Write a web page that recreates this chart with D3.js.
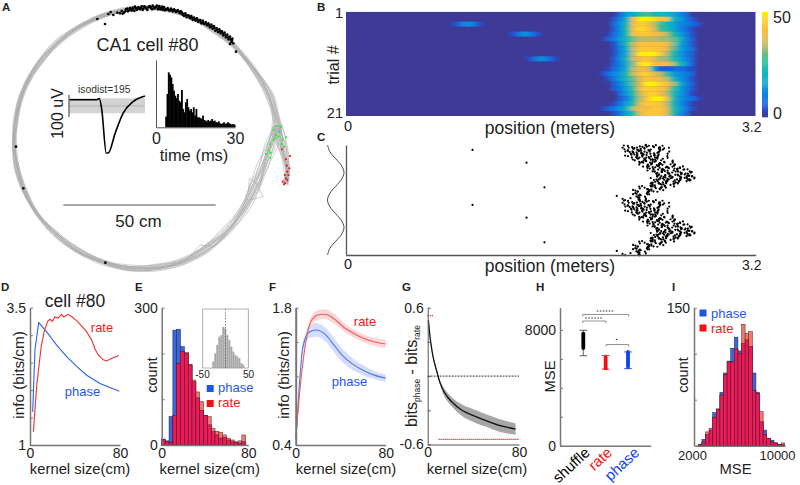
<!DOCTYPE html>
<html><head><meta charset="utf-8">
<script src="https://cdn.jsdelivr.net/npm/d3@7"></script>
<style>html,body{margin:0;padding:0;background:#fff}svg{display:block}text{font-family:"Liberation Sans",Arial,sans-serif;fill:#222}</style>
</head><body><svg id="c" width="800" height="485"></svg>
<script>
// ---------- panel A data (raw track units: 457 units = 50 cm)
const trackX=[858,862,850,838,828,810,780,740,700,640,580,510,450,380,300,230,170,120,85,60,46,42,50,72,110,165,230,310,390,470,550,620,680,730,765,790,815,835];
const trackY=[552,510,450,400,350,290,235,180,135,90,55,32,22,28,50,85,130,185,240,300,370,430,500,570,640,700,750,787,805,803,785,745,695,630,560,500,430,375];
const trackSpread=[.9,1,1.5,1.8,1.5,1.2,.9,.8,.7,.7,.6,.6,.6,.7,.7,.8,.9,.9,.8,.7,.7,.7,.8,.7,.7,.8,.9,.9,.9,1,1.2,1.4,1.3,1.5,1.8,1.9,1.9,1.7];
const lapOffsets=[-9,-7.5,-6,-5,-4,-3,-2.2,-1.4,-.7,0,.8,1.6,2.4,3.2,4.2,5.2,6.5,8];
const lapWobble=[2.2,-1.6,.9,-3,1.8,.4,-1.2,3.1,-2.3,.8,-.6,2,-3.2,1.4,.2,-1.8,2.6,-.8,1.2,-2.4];
const spikesTop=[[325,42],[332,36],[340,45],[352,38],[360,40],[365,33],[372,38],[378,28],[384,34],[390,24],[395,32],[400,27],[405,20],[410,30],[415,22],[420,28],[425,19],[430,26],[436,22],[442,30],[448,18],[453,24],[458,17],[463,26],[468,20],[474,28],[478,18],[483,24],[488,30],[492,21],[497,27],[503,24],[508,32],[513,26],[518,34],[522,28],[528,36],[533,30],[538,38],[543,34],[548,44],[552,48],[556,40],[560,52],[565,46],[570,55],[574,48],[578,60],[582,53],[587,62],[591,55],[595,66],[600,60],[604,70],[608,62],[612,72],[617,66],[621,76],[625,70],[630,82],[634,74],[638,86],[642,78],[646,92],[650,84],[654,96],[658,88],[662,100],[666,94],[670,106],[674,98],[678,112],[682,104],[686,118],[690,110],[694,126],[697,116],[690,132],[700,130],[292,57],[315,72],[708,155],[48,440],[70,565],[316,788],
[368,41],[376,34],[382,26],[388,30],[393,28],[398,23],[403,33],[408,25],[413,27],[418,25],[423,24],[428,30],[433,19],[439,26],[445,22],[451,20],[456,28],[461,21],[466,24],[471,17],[476,23],[481,28],[486,20],[490,26],[495,31],[500,28],[505,29],[511,30],[516,30],[520,31],[526,32],[531,34],[536,33],[541,40],[546,38],[550,42],[559,46],[568,50],[576,54],[585,58],[593,60],[602,65],[610,68],[619,72],[627,76],[636,80],[644,84],[652,90],[660,94],[668,100],[676,106],[684,112],[692,118],[696,122]];
const spikesGreen=[[820,390],[830,378],[842,380],[838,395],[828,405],[825,415],[835,410],[820,420],[858,412],[848,420],[852,440],[845,432],[810,432],[805,450],[798,462],[812,458],[811,473]];
const spikesRed=[[845,448],[870,468],[858,478],[860,497],[868,505],[862,515],[855,525],[865,525],[858,535],[848,545],[855,550],[862,540],[852,553]];
const waveT=[0,27.5,30,32.5,37,39,46,54,64,76];
const waveV=[-25,-25,-22,-48,-148,-148,-102,-56,-29,-16];
const isiMs=[3.5,4,4.5,5,5.5,6,6.5,7,7.5,8,8.5,9,9.5,10,10.5,11,11.5,12,12.5,13,13.5,14,14.5,15,15.5,16,16.5,17,17.5,18,18.5,19,19.5,20,20.5,21,21.5,22,22.5,23,23.5,24,24.5,25,25.5,26,26.5,27,27.5,28,28.5,29,29.5];
const isiCount=[32,100,165,158,150,130,110,95,88,100,80,75,112,55,45,75,85,60,50,55,45,60,35,55,30,30,28,25,35,22,20,18,22,18,20,25,18,20,15,15,18,12,10,12,15,10,12,15,12,10,8,10,8];
// ---------- panel B data
const heatKnots=[2,2.05,2.1,2.15,2.2,2.25,2.3,2.35,2.4,2.45,2.5,2.55,2.6,2.65,2.7,2.75,2.8];
const heatRows=[
[0,0,0,8,15,18,25,28,22,20,20,18,12,8,0,0,0],
[0,0,5,12,22,40,50,50,48,42,42,22,15,10,5,0,0],
[0,0,8,15,25,42,44,42,35,28,22,18,12,10,8,4,0],
[0,0,6,14,26,42,48,46,38,28,24,18,12,8,3,0,0],
[0,2,8,14,26,42,44,44,40,38,34,24,16,10,4,0,0],
[0,6,10,16,24,30,34,34,34,32,32,30,24,12,6,0,0],
[0,0,5,14,26,36,42,42,42,42,40,32,20,12,5,0,0],
[0,0,4,12,22,36,44,44,44,40,38,30,18,12,8,0,0],
[0,0,4,12,20,36,50,50,50,46,34,24,16,10,6,0,0],
[0,0,6,14,24,36,40,42,38,32,32,24,18,12,6,0,0],
[0,0,6,12,20,32,48,50,42,40,40,34,24,16,6,0,0],
[0,2,8,12,22,34,40,38,20,6,5,6,8,6,4,0,0],
[2,8,12,16,26,36,44,46,38,34,28,16,12,10,6,0,0],
[0,4,10,16,24,30,38,42,40,38,34,22,14,10,4,0,0],
[0,0,6,12,20,30,38,50,50,46,42,34,22,12,6,0,0],
[0,0,6,10,18,28,40,46,44,42,38,28,18,10,5,0,0],
[0,0,0,8,16,26,36,44,46,40,34,24,16,10,3,0,0],
[0,0,0,6,12,24,34,44,50,50,42,26,14,10,8,3,0],
[0,0,4,10,18,26,38,44,44,42,34,24,14,8,2,0,0],
[2,6,10,14,22,34,40,38,44,42,38,26,16,10,4,0,0],
[0,0,4,10,18,26,38,44,44,44,38,26,14,8,0,0,0]];
const heatBlobs=[[2,[.85,.9,.95,1,1.05],[3,9,13,9,3]],[4,[1.3,1.35,1.4,1.45,1.5],[3,9,13,9,3]],[9,[1.43,1.48,1.53,1.58,1.63],[3,9,13,9,3]]];
const parulaStops=[0,.06,.15,.3,.42,.54,.66,.8,.92,1];
const parulaCols=["#3e3a96","#2a48c8","#0f70e6","#0fa0d8","#12b8c0","#2cc090","#b4bb72","#fdbb40","#fdd030","#fff200"];
// ---------- panel C data: [phase deg, [positions in metres]]
const spikeRows=[[358,[2.33,2.36,2.39,2.48]],[352,[2.18,2.20,2.29,2.33,2.37,2.39]],[345,[2.19,2.24,2.30,2.34,2.38,2.47,2.51]],[339,[2.18,2.21,2.26,2.31,2.36,2.44,2.50]],[332,[.96,2.20,2.23,2.28,2.33,2.37,2.42,2.47]],[326,[2.19,2.22,2.25,2.30,2.34,2.40,2.45,2.49]],[319,[2.21,2.24,2.27,2.31,2.36,2.44,2.50]],[313,[2.20,2.23,2.29,2.32,2.38,2.42,2.47]],[306,[2.22,2.26,2.28,2.33,2.36,2.41,2.46]],[300,[2.22,2.25,2.27,2.30,2.34,2.38,2.45,2.49]],[293,[2.21,2.27,2.29,2.32,2.35,2.39,2.44]],[287,[2.23,2.26,2.29,2.33,2.37,2.43,2.48]],[280,[2.24,2.27,2.30,2.34,2.38,2.40,2.46]],[274,[2.25,2.28,2.31,2.36,2.39,2.45,2.50]],[267,[2.26,2.30,2.34,2.37,2.41,2.47]],[261,[2.27,2.31,2.35,2.38,2.42,2.49]],[254,[2.28,2.32,2.36,2.40,2.44,2.52,2.56]],[248,[2.29,2.34,2.37,2.41,2.46,2.51]],[244,[1.41]],[241,[2.30,2.35,2.38,2.42,2.47,2.54]],[235,[2.31,2.36,2.39,2.43,2.49,2.53,2.58]],[228,[2.33,2.38,2.41,2.45,2.50,2.56]],[222,[2.34,2.37,2.42,2.46,2.52,2.57,2.61]],[215,[2.35,2.39,2.43,2.47,2.53,2.59]],[209,[2.36,2.40,2.44,2.49,2.54,2.58,2.63]],[202,[2.37,2.41,2.45,2.50,2.56,2.60,2.64]],[196,[2.38,2.42,2.47,2.51,2.55,2.61,2.66]],[189,[2.40,2.43,2.46,2.52,2.57,2.62,2.68]],[183,[2.41,2.44,2.49,2.53,2.58,2.64,2.69]],[176,[2.40,2.45,2.50,2.54,2.59,2.63,2.67,2.70]],[170,[2.42,2.46,2.49,2.55,2.60,2.65,2.68]],[163,[2.43,2.47,2.51,2.56,2.61,2.64,2.69]],[157,[2.44,2.46,2.52,2.55,2.58,2.62,2.66,2.71,2.73]],[150,[2.42,2.47,2.50,2.53,2.57,2.63,2.67,2.70]],[144,[2.41,2.45,2.49,2.52,2.56,2.60,2.65,2.69,2.71]],[137,[2.43,2.46,2.50,2.54,2.58,2.62,2.66,2.70]],[131,[2.40,2.44,2.48,2.51,2.55,2.59,2.64,2.68]],[124,[2.41,2.45,2.49,2.53,2.57,2.61,2.66,2.69]],[118,[2.39,2.43,2.47,2.50,2.54,2.58,2.63]],[111,[2.38,2.42,2.46,2.49,2.52,2.56,2.60]],[105,[2.37,2.41,2.45,2.48,2.53,2.59]],[98,[2.36,2.40,2.44,2.47,2.51]],[92,[2.33,2.37,2.41,2.46,2.50,2.54]],[85,[2.32,2.39,2.43,2.47,2.49]],[83,[1.55]],[79,[2.30,2.36,2.41,2.44,2.48]],[72,[2.34,2.38,2.42,2.46]],[65,[2.22,2.29,2.36,2.40,2.45]],[59,[2.30,2.35,2.39,2.43]],[53,[2.27,2.33,2.38,2.42]],[46,[2.28,2.32,2.37]],[40,[2.22,2.30,2.35]],[33,[2.31,2.34]],[28,[2.14,2.25,2.29,2.33]],[20,[2.27,2.31]],[14,[2.24,2.28]],[7,[2.18,2.26,2.30,2.32]],[1,[2.21,2.28,2.31]]];
const readErrM=[.012,-.02,.03,-.008,.022,-.03,.005,-.015,.028,-.025,.018,-.005,-.028,.01,.025,-.018];
const readErrD=[3,-2,1,-3,2,4,-1,-4,0,3,-3,2,-2,4,1,-1,-3];
const thetaPhase=[720,675,630,585,540,495,450,405,360,315,270,225,180,135,90,45,0];
const thetaCos=[0,.15,.5,.85,1,.85,.5,.15,0,.15,.5,.85,1,.85,.5,.15,0];
// ---------- panel D data
const dPhaseK=[2.4,4.4,7.7,14.8,23.7,32.6,41.5,50.4,62.2,79.4];
const dPhaseI=[1.6,2.73,3.23,3.06,2.82,2.61,2.43,2.27,2.12,1.98];
const dRateK=[3,6,10,13,16,17.8,20,22,25,28,30,34,37,41,44.4,50.4,54.8,58,60.7,65,68,72,79];
const dRateI=[1.24,2.09,2.8,3.1,3.26,3.29,3.25,3.33,3.31,3.38,3.33,3.38,3.34,3.27,3.2,3.06,2.91,2.74,2.64,2.55,2.53,2.57,2.63];
// ---------- panel E data
const eBinStart=[-.3,3.24,6.78,10.32,13.86,17.4,20.94,24.48,28.02,31.56,35.1,38.64,42.18,45.72,49.26,52.8,56.34,59.88,63.42,66.96,70.5,74.04];
const ePhase=[13,9,62,251,253,215,200,175,138,103,76,65,44,29,22,15,16,11,7,5,4,7];
const eRate=[11,7,5,65,178,204,202,176,142,116,95,65,62,36,30,28,22,15,11,7,9,22];
const insetBins=[-29,-24.6,-20.2,-15.8,-11.4,-7,-2.6,1.8,6.2,10.6,15,19.4,23.8,28.2,32.6,37];
const insetCount=[20,45,70,95,100,125,120,100,85,65,50,40,35,30,15,10];
// ---------- panel F data
const fRateK=[0,3.9,8.3,12.7,17,21.6,27.6,35,44,53,62,70.5,80];
const fRateI=[.47,.98,1.4,1.64,1.71,1.73,1.73,1.68,1.59,1.53,1.48,1.45,1.43];
const fRateSem=[.01,.02,.03,.04,.05,.05,.05,.05,.045,.04,.04,.04,.04];
const fPhaseK=[1,3.9,6.8,11,15.7,20,26,32,41,50,62,70.5,80];
const fPhaseI=[.57,1.11,1.42,1.54,1.57,1.57,1.53,1.45,1.32,1.23,1.15,1.11,1.08];
const fPhaseSem=[.01,.03,.05,.06,.07,.07,.07,.07,.07,.06,.05,.04,.04];
// ---------- panel G data
const gK=[.6,2.6,5,8,11,15,21,30,38.5,50,62,77];
const gD=[.49,.30,.155,.04,-.064,-.15,-.225,-.30,-.34,-.386,-.43,-.465];
const gSem=[.01,.01,.015,.015,.02,.035,.04,.05,.055,.055,.055,.05];
// ---------- panel H data
const hCats=["shuffle","rate","phase"];
const hCols=["#000","#f01010","#1040f0"];
const hWhiskLo=[6220,5290,5330];
const hWhiskHi=[7980,6230,6480];
const hBoxLo=[6750,5350,5450];
const hBoxHi=[7750,6100,6480];
// ---------- panel I data
const iBinStart=[2296,2616,2936,3256,3576,3896,4216,4536,4856,5176,5496,5816,6136,6456,6776,7096,7416,7736,8056,8376,8696,9016,9336,9656];
const iPhase=[1,7,12,17,36,40,58,79,92,106,118,103,111,115,108,79,58,26,17,8,6,3,1,1];
const iRate=[1,4,15,19,31,39,55,77,91,91,105,100,132,122,124,60,57,37,12,8,4,3,1,3];

const BLUE="#1f56e8",RED="#f01818",AX="#777";
const svg=d3.select("#c");
function T(x,y,s,o={}){const t=svg.append("text").attr("x",x).attr("y",y).attr("font-size",o.size||15).attr("text-anchor",o.anchor||"start").text(s);
 if(o.color)t.style("fill",o.color); if(o.bold)t.attr("font-weight","bold");
 if(o.rot!=null)t.attr("transform",`rotate(${o.rot} ${x} ${y})`); return t;}
function axis(g,kind,scale,vals,labels,o={}){
 const a=(kind=="left"?d3.axisLeft(scale):d3.axisBottom(scale)).tickValues(vals).tickSizeInner(o.tick==null?-3:o.tick).tickSizeOuter(0).tickPadding(o.pad==null?4:o.pad)
  .tickFormat(d=>{const i=vals.indexOf(d);return labels[i]||""});
 const s=g.call(a);
 s.select(".domain").attr("stroke",o.color||AX).attr("stroke-width",o.w||1.5);
 s.selectAll("line").attr("stroke",o.color||AX).attr("stroke-width",1);
 s.selectAll("text").attr("font-size",o.size||14).style("fill","#222");
 return s;}
const G=(x=0,y=0)=>svg.append("g").attr("transform",`translate(${x},${y})`);

// panel letters
[["A",2,11],["B",317,11],["C",317,141],["D",1,291],["E",135,291],["F",269,291],["G",402,291],["H",536,291],["I",672,291]].forEach(p=>T(p[1],p[2],p[0],{size:11.5,bold:true}));

// ---- A
const tx=d3.scaleLinear().domain([0,930]).range([0,310]), ty=d3.scaleLinear().domain([0,825]).range([0,275]);
const gA=G();
const cxT=450,cyT=415;
lapOffsets.forEach((off,l)=>{
 const pts=trackX.map((x,i)=>{
  const dx=x-cxT,dy=trackY[i]-cyT,r=Math.hypot(dx,dy);
  const ro=off*trackSpread[i]+lapWobble[(i+l*3)%lapWobble.length]*trackSpread[i];
  return [x+dx/r*ro,trackY[i]+dy/r*ro];});
 gA.append("path").attr("d",d3.line().x(d=>tx(d[0])).y(d=>ty(d[1])).curve(d3.curveCatmullRom)(pts))
  .attr("fill","none").attr("stroke","#adadad").attr("stroke-width",.55);
});
[[[745,575],[748,535],[780,555],[795,490]],[[560,780],[600,735],[640,740],[680,700]],[[750,600],[790,590],[765,545]]].forEach(kink=>
 gA.append("path").attr("d",d3.line().x(d=>tx(d[0])).y(d=>ty(d[1]))(kink)).attr("fill","none").attr("stroke","#a9a9a9").attr("stroke-width",.6));
gA.selectAll(".b").data(spikesTop).enter().append("circle").attr("cx",d=>tx(d[0])).attr("cy",d=>ty(d[1])).attr("r",1.3).attr("fill","#000");
gA.selectAll(".g").data(spikesGreen).enter().append("circle").attr("cx",d=>tx(d[0])).attr("cy",d=>ty(d[1])).attr("r",1.05).attr("fill","#22ee22");
gA.selectAll(".r").data(spikesRed).enter().append("circle").attr("cx",d=>tx(d[0])).attr("cy",d=>ty(d[1])).attr("r",1.05).attr("fill","#f01010");
T(96.5,51,"CA1 cell #80",{size:18});
T(78,93,"isodist=195",{size:10.3,color:"#333"});
// waveform: x in time, y in uV
const wx=d3.scaleLinear().domain([0,76]).range([69.5,145]), wy=d3.scaleLinear().domain([0,-148]).range([89,153]);
gA.append("rect").attr("x",wx(0)).attr("width",wx(76)-wx(0)).attr("y",wy(-21.5)).attr("height",wy(-56)-wy(-21.5)).attr("fill","#d4d4d4");
gA.append("line").attr("x1",wx(0)).attr("x2",wx(76)).attr("y1",wy(-39)).attr("y2",wy(-39)).attr("stroke","#aaa").attr("stroke-width",.8);
gA.append("path").attr("d",d3.line().x((d,i)=>wx(waveT[i])).y(d=>wy(d)).curve(d3.curveMonotoneX)(waveV)).attr("fill","none").attr("stroke","#000").attr("stroke-width",1.6);
gA.append("line").attr("x1",69).attr("x2",69).attr("y1",95).attr("y2",117).attr("stroke","#333").attr("stroke-width",1);
T(58,113.5,"100 uV",{size:16,anchor:"middle",rot:-90}).attr("dy",5);
// ISI
const ix=d3.scaleLinear().domain([0,30]).range([156,235]), iy=d3.scaleLinear().domain([0,202]).range([127.3,60]);
gA.selectAll(".isi").data(isiCount).enter().append("rect").attr("x",(d,i)=>ix(isiMs[i])).attr("width",ix(.5)-ix(0)+.5).attr("y",d=>iy(d)).attr("height",d=>iy(0)-iy(d)).attr("fill","#000");
axis(G(0,127.3),"bottom",ix,[0,30],["0","30"],{tick:0,color:"#555",w:1,size:16,pad:5});
axis(G(156,0),"left",iy,[0],[""],{tick:0,color:"#555",w:1});
T(194,161,"time (ms)",{size:16.5,anchor:"middle"});
gA.append("line").attr("x1",63.3).attr("x2",215.7).attr("y1",205).attr("y2",205).attr("stroke","#555").attr("stroke-width",1.1);
T(138.5,227,"50 cm",{size:17,anchor:"middle"});

// ---- B
const bx=d3.scaleLinear().domain([0,3.2]).range([346,755.7]);
const by=d3.scaleLinear().domain([0,21]).range([11.7,116]);
const parula=d3.scaleLinear().domain(parulaStops.map(d=>d*50)).range(parulaCols);
const defs=svg.append("defs");
defs.append("clipPath").attr("id","bc").append("rect").attr("x",bx(0)).attr("y",by(0)).attr("width",bx(3.2)-bx(0)).attr("height",by(21)-by(0));
defs.append("filter").attr("id","bl").attr("x","-5%").attr("y","-5%").attr("width","110%").attr("height","110%").append("feGaussianBlur").attr("stdDeviation","2.6 .55");
const gB=G().attr("clip-path","url(#bc)");
gB.append("rect").attr("x",bx(0)).attr("y",by(0)).attr("width",bx(3.2)-bx(0)).attr("height",by(21)-by(0)).attr("fill",parula(0));
const gBc=gB.append("g").attr("filter","url(#bl)");
const kw=bx(.05)-bx(0);
heatRows.forEach((row,r)=>{row.forEach((v,k)=>{gBc.append("rect").attr("x",bx(heatKnots[k])-kw/2).attr("width",kw+.5).attr("y",by(r)).attr("height",by(1)-by(0)+.3).attr("fill",parula(v));});});
heatBlobs.forEach(b=>b[2].forEach((v,k)=>{gBc.append("rect").attr("x",bx(b[1][k])-kw/2).attr("width",kw+.5).attr("y",by(b[0])).attr("height",by(1)-by(0)).attr("fill",parula(v));}));
// colorbar
const cbS=d3.scaleLinear().domain([0,50]).range([117,12]);
d3.range(0,50,.5).forEach(v=>{svg.append("rect").attr("x",762).attr("width",6).attr("y",cbS(v+.5)).attr("height",cbS(v)-cbS(v+.5)+.3).attr("fill",parula(v));});
T(773,23,"50",{size:16});T(773,118.5,"0",{size:16});
T(343,17.5,"1",{size:14.5,anchor:"end"});T(343,117.5,"21",{size:14.5,anchor:"end"});
T(339,65,"trial #",{size:16,anchor:"middle",rot:-90});
T(344,131,"0",{size:14.5});T(550,133.5,"position (meters)",{size:17.5,anchor:"middle"});T(742,131.5,"3.2",{size:14});

// ---- C
const cy=d3.scaleLinear().domain([0,720]).range([255,145]);
const gC=G();
const dots=[];let n=0;
spikeRows.forEach(r=>r[1].forEach(m=>{
 const single=r[1].length==1;
 const mm=single?m:m+readErrM[n%readErrM.length], dd=single?r[0]:r[0]+readErrD[n%readErrD.length];n++;
 dots.push([mm,dd]);dots.push([mm,dd+360]);}));
gC.selectAll("circle").data(dots).enter().append("circle").attr("cx",d=>bx(d[0])).attr("cy",d=>cy(d[1])).attr("r",1.1).attr("fill","#000");
axis(G(0,255),"bottom",bx,[0,3.2],["",""],{tick:0,color:"#555",w:1.3});
axis(G(346,0),"left",cy,[0],[""],{tick:0,color:"#555",w:1.3});
const wavX=d3.scaleLinear().domain([0,1]).range([327.5,344]);
gC.append("path").attr("d",d3.line().x(d=>wavX(d)).y((d,i)=>cy(thetaPhase[i])).curve(d3.curveCatmullRom)(thetaCos)).attr("fill","none").attr("stroke","#333").attr("stroke-width",.9);
T(344,269,"0",{size:14.5});T(550,272,"position (meters)",{size:17.5,anchor:"middle"});T(742,269.5,"3.2",{size:14});

// ---- shared kernel panels
const kY0=445,kY1=307.7;
const kernelLabel=(x)=>T(x,473.5,"kernel size(cm)",{size:14.8,anchor:"middle"});
// D
const dx=d3.scaleLinear().domain([0,80]).range([30,120]), dy=d3.scaleLinear().domain([1,3.5]).range([kY0,kY1]);
axis(G(30,0),"left",dy,[1,1.5,2,2.5,3,3.5],["1","","","","","3.5"]);
axis(G(0,445),"bottom",dx,[0,80],["0","80"],{tick:0,pad:3});
svg.append("path").attr("d",d3.line().x((d,i)=>dx(dPhaseK[i])).y(d=>dy(d))(dPhaseI)).attr("fill","none").attr("stroke","#2c62e8").attr("stroke-width",1.1);
svg.append("path").attr("d",d3.line().x((d,i)=>dx(dRateK[i])).y(d=>dy(d))(dRateI)).attr("fill","none").attr("stroke","#f03030").attr("stroke-width",1.1);
T(75,307,"cell #80",{size:17.5,anchor:"middle"});
T(102,332,"rate",{size:13,anchor:"middle",color:"#f01818"});
T(82.5,396,"phase",{size:13,anchor:"middle",color:BLUE});
T(24,375,"info (bits/cm)",{size:15.3,anchor:"middle",rot:-90});
kernelLabel(80);
// E
const ex=d3.scaleLinear().domain([0,80]).range([161.7,248.3]), ey=d3.scaleLinear().domain([0,300]).range([kY0,kY1]);
const gE=G();
const barW=ex(3.54)-ex(0);
const bars=(g,sx,sy,starts,vals,w,fill,stroke)=>g.append("g").selectAll("rect").data(vals).enter().append("rect").attr("x",(d,i)=>sx(starts[i])).attr("width",w).attr("y",d=>sy(d)).attr("height",d=>sy.range()[0]-sy(d)).attr("fill",fill).attr("stroke",stroke||"none").attr("stroke-width",.5);
bars(gE,ex,ey,eBinStart,ePhase,barW,"#3a66e0","#223");
bars(gE,ex,ey,eBinStart,eRate,barW,"#ee7a6c","#522");
bars(gE,ex,ey,eBinStart,ePhase.map((d,i)=>Math.min(d,eRate[i])),barW,"#ea1c58","#501030");
axis(G(161.7,0),"left",ey,[0,100,200,300],["0","","","300"]);
axis(G(0,445),"bottom",ex,[0,80],["0","80"],{tick:0,pad:3});
T(158,375,"count",{size:14.5,anchor:"middle",rot:-90}).attr("dy",-1);
kernelLabel(209.7);
const ins=G();
const inx=d3.scaleLinear().domain([-50,50]).range([202.7,248.3]), iny=d3.scaleLinear().domain([0,178]).range([368,309.5]);
bars(ins,inx,iny,insetBins,insetCount,inx(4.4)-inx(0),"#a8a8a8");
ins.append("rect").attr("x",202.7).attr("y",309).attr("width",45.6).attr("height",59).attr("fill","none").attr("stroke","#999").attr("stroke-width",.8);
ins.append("line").attr("x1",inx(0)).attr("x2",inx(0)).attr("y1",309).attr("y2",368).attr("stroke","#555").attr("stroke-width",.7).attr("stroke-dasharray","1.5,1.5");
T(202.5,378,"-50",{size:10,anchor:"middle"});T(248.5,378,"50",{size:10,anchor:"middle"});
svg.append("rect").attr("x",206.7).attr("y",385).attr("width",7).attr("height",7).attr("fill",BLUE);
svg.append("rect").attr("x",206.7).attr("y",400).attr("width",7).attr("height",7).attr("fill","#f01010");
T(218,392,"phase",{size:13,color:BLUE});T(218,407,"rate",{size:13,color:RED});
// F
const fx=d3.scaleLinear().domain([0,80]).range([295.7,385.7]), fy=d3.scaleLinear().domain([.4,1.8]).range([kY0,kY1]);
const band=(K,V,S,c)=>svg.append("path").attr("d",d3.area().x((d,i)=>fx(K[i])).y0((d,i)=>fy(d-S[i])).y1((d,i)=>fy(d+S[i])).curve(d3.curveCatmullRom)(V)).attr("fill",c).attr("opacity",.22);
band(fPhaseK,fPhaseI,fPhaseSem,"#3a62e8");band(fRateK,fRateI,fRateSem,"#f04848");
svg.append("path").attr("d",d3.line().x((d,i)=>fx(fPhaseK[i])).y(d=>fy(d)).curve(d3.curveCatmullRom)(fPhaseI)).attr("fill","none").attr("stroke","#4f76e8").attr("stroke-width",1.1);
svg.append("path").attr("d",d3.line().x((d,i)=>fx(fRateK[i])).y(d=>fy(d)).curve(d3.curveCatmullRom)(fRateI)).attr("fill","none").attr("stroke","#f25a5a").attr("stroke-width",1.1);
axis(G(295.7,0),"left",fy,[.4,.75,1.1,1.45,1.8],["0.4","","","","1.8"],{w:2});
axis(G(0,445),"bottom",fx,[0,80],["0","80"],{tick:0,pad:3});
T(365,326,"rate",{size:13,anchor:"middle",color:RED});
T(349.5,385.5,"phase",{size:13,anchor:"middle",color:BLUE});
T(289,375,"info (bits/cm)",{size:15.3,anchor:"middle",rot:-90});
kernelLabel(346);
// G
const gx=d3.scaleLinear().domain([0,80]).range([427.7,519]), gy=d3.scaleLinear().domain([-.6,.6]).range([444.5,307.7]);
svg.append("path").attr("d",d3.area().x((d,i)=>gx(gK[i])).y0((d,i)=>gy(d-gSem[i])).y1((d,i)=>gy(d+gSem[i])).curve(d3.curveCatmullRom)(gD)).attr("fill","#777").attr("opacity",.65);
svg.append("path").attr("d",d3.line().x((d,i)=>gx(gK[i])).y(d=>gy(d)).curve(d3.curveCatmullRom)(gD)).attr("fill","none").attr("stroke","#111").attr("stroke-width",1.3);
const hl=(x1,x2,v,c,da,w)=>svg.append("line").attr("x1",gx(x1)).attr("x2",gx(x2)).attr("y1",gy(v)).attr("y2",gy(v)).attr("stroke",c).attr("stroke-width",w||.9).attr("stroke-dasharray",da);
hl(0,80,0,"#111","1.8,1.2");hl(0,5,.53,"#f02020","1.2,.8",1.2);hl(9.5,80,-.555,"#f02020","1.2,.8",1.2);
axis(G(427.7,0),"left",gy,[-.6,-.3,0,.3,.6],["-0.6","","","","0.6"],{w:1,color:"#555"});
axis(G(0,444.5),"bottom",gx,[0,80],["0","80"],{tick:0,w:1,color:"#555",pad:3});
const gl=T(417,376,"",{size:16,anchor:"middle",rot:-90});
gl.append("tspan").text("bits");gl.append("tspan").attr("font-size",8.5).attr("dy",3).text("phase");gl.append("tspan").attr("dy",-3).text(" - bits");gl.append("tspan").attr("font-size",8.5).attr("dy",3).text("rate");
kernelLabel(477);
// H
const hx=d3.scalePoint().domain(hCats).range([583.3,628]), hy=d3.scaleLinear().domain([0,9540]).range([445.7,307.7]);
axis(G(560,0),"left",hy,[0,2000,4000,6000,8000],["0","","","","8000"]);
const hXr=d3.scaleLinear().domain([0,1]).range([560,650.7]);
axis(G(0,445.7),"bottom",hXr,[0],[""],{tick:0});
hCats.forEach((c,i)=>{const x=hx(c),col=hCols[i],g=G();
 g.append("line").attr("x1",x).attr("x2",x).attr("y1",hy(hWhiskLo[i])).attr("y2",hy(hWhiskHi[i])).attr("stroke",i?col:"#444").attr("stroke-width",.8);
 [hWhiskLo[i],hWhiskHi[i]].forEach(v=>g.append("line").attr("x1",x-3.7).attr("x2",x+3.7).attr("y1",hy(v)).attr("y2",hy(v)).attr("stroke",i?col:"#444").attr("stroke-width",.9));
 g.append("line").attr("x1",x).attr("x2",x).attr("y1",hy(hBoxLo[i])).attr("y2",hy(hBoxHi[i])).attr("stroke",col).attr("stroke-width",3.8).attr("stroke-linecap","round");
 T(x+2+(i==2?5:0),448,c,{size:15,anchor:"end",rot:-43,color:col}).attr("dy",8);
});
const br=(x1,x2,y,n,sy)=>{const g=G();g.append("path").attr("d",`M${x1},${y+2}V${y}H${x2}V${y+2}`).attr("fill","none").attr("stroke","#777").attr("stroke-width",.8);
 g.append("line").attr("x1",(x1+x2)/2-n*1.5).attr("x2",(x1+x2)/2+n*1.5).attr("y1",sy).attr("y2",sy).attr("stroke","#222").attr("stroke-width",1.1).attr("stroke-dasharray","1.5,1.5");};
br(582.7,628.7,314.5,6,311);br(582.7,606,321,6,318);br(606,628.7,344.5,1,339.5);
T(555,376.5,"MSE",{size:14.8,anchor:"middle",rot:-90});
// I
const ixs=d3.scaleLinear().domain([2000,10000]).range([695,785]), iys=d3.scaleLinear().domain([0,150]).range([445.7,307.7]);
const gI=G();const iw=ixs(2320)-ixs(2000);
bars(gI,ixs,iys,iBinStart,iPhase,iw,"#3a66e0","#223");
bars(gI,ixs,iys,iBinStart,iRate,iw,"#ee7a6c","#522");
bars(gI,ixs,iys,iBinStart,iPhase.map((d,i)=>Math.min(d,iRate[i])),iw,"#ea1c58","#501030");
axis(G(694,0),"left",iys,[0,50,100,150],["","","","150"],{pad:4});
const iAx=axis(G(0,445.7),"bottom",ixs,[2000,10000],["2000","10000"],{tick:0,size:13,pad:5});
iAx.selectAll("text").attr("dx",(d,i)=>i?-8:-3);
T(735.5,473.5,"MSE",{size:14.8,anchor:"middle"});
T(688,375,"count",{size:14.5,anchor:"middle",rot:-90});
svg.append("rect").attr("x",699.5).attr("y",309.5).attr("width",7).attr("height",7).attr("fill",BLUE);
svg.append("rect").attr("x",699.5).attr("y",324.5).attr("width",7).attr("height",7).attr("fill","#f01010");
T(711,317.5,"phase",{size:13,color:BLUE});T(711,332.5,"rate",{size:13,color:RED});
</script></body></html>
